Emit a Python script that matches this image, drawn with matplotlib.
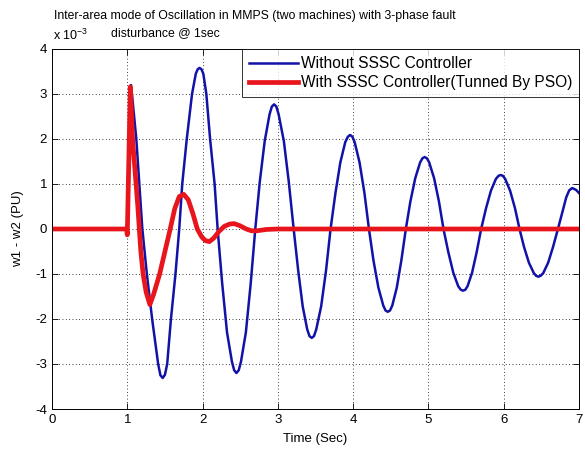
import matplotlib
matplotlib.use("Agg")
import matplotlib.pyplot as plt

plt.rcParams['font.family'] = ['Liberation Sans', 'DejaVu Sans']
plt.rcParams['mathtext.fontset'] = 'custom'
plt.rcParams['mathtext.rm'] = 'Liberation Sans'
plt.rcParams['mathtext.default'] = 'regular'
plt.rcParams['axes.unicode_minus'] = False

# values (units of 1e-3 PU)
t_without = [0, 1.0, 1.05, 1.12, 1.16, 1.20, 1.26, 1.33, 1.41, 1.44, 1.47, 1.50, 1.53, 1.58, 1.64,
             1.69, 1.73, 1.79, 1.86, 1.91, 1.935, 1.96, 1.985, 2.01, 2.05, 2.10, 2.16, 2.20,
             2.26, 2.325, 2.39, 2.42, 2.45, 2.48, 2.51, 2.575, 2.64, 2.70,
             2.76, 2.825, 2.89, 2.92, 2.95, 2.98, 3.01, 3.08, 3.145, 3.21,
             3.27, 3.33, 3.39, 3.42, 3.45, 3.48, 3.51, 3.575, 3.64, 3.70,
             3.765, 3.83, 3.895, 3.93, 3.96, 3.99, 4.02, 4.085, 4.15, 4.21,
             4.27, 4.335, 4.40, 4.43, 4.46, 4.49, 4.52, 4.58, 4.64, 4.70,
             4.76, 4.825, 4.89, 4.92, 4.95, 4.98, 5.01, 5.075, 5.14, 5.20,
             5.265, 5.33, 5.395, 5.43, 5.46, 5.49, 5.52, 5.58, 5.64, 5.70,
             5.765, 5.83, 5.895, 5.93, 5.96, 5.99, 6.02, 6.085, 6.15, 6.21,
             6.27, 6.335, 6.40, 6.43, 6.46, 6.49, 6.525, 6.59, 6.655, 6.72,
             6.78, 6.83, 6.87, 6.91, 6.96, 7.0]
w_without = [0, 0, 3.2, 2.0, 1.0, 0, -1.0, -2.0, -3.0, -3.25, -3.31, -3.24, -3.0, -2.0, -1.0,
             0, 1.0, 2.0, 3.0, 3.45, 3.55, 3.58, 3.55, 3.45, 3.0, 2.0, 1.0, 0,
             -1.2, -2.3, -2.95, -3.14, -3.2, -3.14, -2.95, -2.3, -1.2, 0,
             1.05, 1.95, 2.55, 2.72, 2.77, 2.72, 2.55, 1.95, 1.05, 0,
             -0.92, -1.72, -2.23, -2.38, -2.42, -2.38, -2.23, -1.72, -0.92, 0,
             0.8, 1.48, 1.93, 2.05, 2.09, 2.05, 1.93, 1.48, 0.8, 0,
             -0.7, -1.3, -1.7, -1.81, -1.84, -1.81, -1.7, -1.3, -0.7, 0,
             0.61, 1.13, 1.48, 1.57, 1.6, 1.57, 1.48, 1.13, 0.61, 0,
             -0.52, -0.97, -1.27, -1.35, -1.37, -1.35, -1.27, -0.97, -0.52, 0,
             0.46, 0.85, 1.11, 1.18, 1.2, 1.18, 1.11, 0.85, 0.46, 0,
             -0.4, -0.75, -0.98, -1.04, -1.06, -1.04, -0.98, -0.75, -0.4, 0,
             0.38, 0.7, 0.86, 0.91, 0.87, 0.8]

t_with = [0, 0.99, 1.0, 1.02, 1.04, 1.07, 1.14, 1.18, 1.21, 1.25, 1.30, 1.35, 1.43,
          1.50, 1.57, 1.63, 1.69, 1.75, 1.81, 1.87, 1.93, 1.99, 2.04, 2.09, 2.15,
          2.22, 2.29, 2.36, 2.42, 2.50, 2.58, 2.65, 2.72, 2.85, 3.0, 7.0]
w_with = [0, 0, -0.13, 1.5, 3.16, 2.0, 0.5, -0.5, -1.0, -1.4, -1.68, -1.45, -1.0,
          -0.5, 0, 0.45, 0.72, 0.77, 0.65, 0.35, 0, -0.18, -0.26, -0.28, -0.2,
          -0.05, 0.06, 0.11, 0.12, 0.07, 0.0, -0.04, -0.04, -0.01, 0, 0]

labels = ['Without SSSC Controller', 'With SSSC Controller(Tunned By PSO)']

fig = plt.figure(figsize=(5.85, 4.5), dpi=100)
ax = fig.add_axes([52/585, 1 - 409/450, 527/585, 360/450])

ax.plot(t_without, w_without, color='#1212a8', lw=1.8, label=labels[0])
ax.plot(t_with, w_with, color='#e8161c', lw=3.4, label=labels[1])

ax.set_xlim(0, 7)
ax.set_ylim(-4, 4)
ax.set_xticks(range(0, 8))
ax.set_yticks(range(-4, 5))
ax.tick_params(direction='in', length=4, labelsize=9.5, width=0.6, top=True, right=True,
               labeltop=False, labelright=False)
ax.grid(True, color='black', linestyle=(0, (1, 3)), linewidth=0.6)
for s in ax.spines.values():
    s.set_linewidth(0.7)

ax.set_xlabel('Time (Sec)', fontsize=9.5, labelpad=5)
ax.set_ylabel('w1 - w2 (PU)', fontsize=9.5, labelpad=8)

leg = ax.legend(loc='upper right', fontsize=11.2, frameon=True, fancybox=False,
                borderaxespad=0, handlelength=3.2, handletextpad=0.15,
                borderpad=0.45, labelspacing=0.28)
leg.get_frame().set_edgecolor('black')
leg.get_frame().set_linewidth(0.7)

fig.text(54/585, 1 - 16/450, 'Inter-area mode of Oscillation in MMPS (two machines) with 3-phase fault',
         fontsize=8.8, va='center', ha='left')
fig.text(111/585, 1 - 33/450, 'disturbance @ 1sec', fontsize=8.8, va='center', ha='left')
fig.text(53/585, 1 - 35/450, 'x 10$^{-3}$', fontsize=9, va='center', ha='left')

fig.savefig('out.png', dpi=100)
